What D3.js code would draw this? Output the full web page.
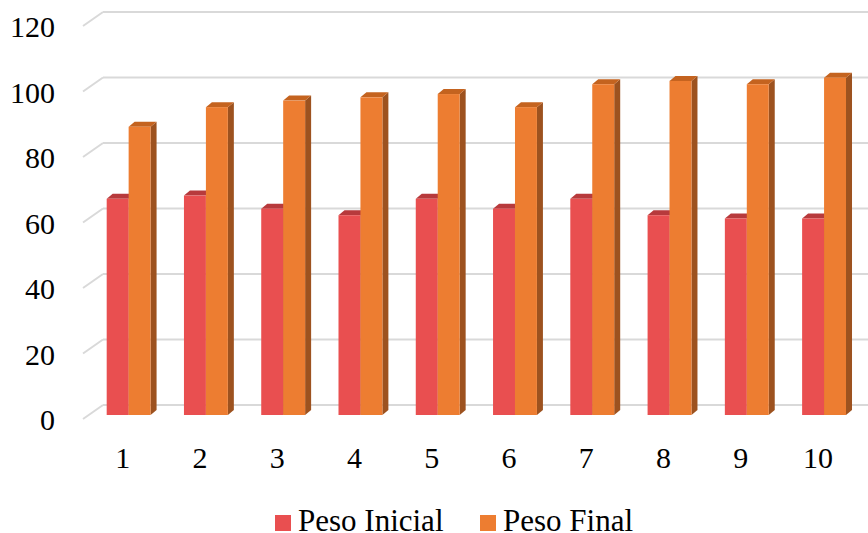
<!DOCTYPE html>
<html>
<head>
<meta charset="utf-8">
<script src="https://cdn.jsdelivr.net/npm/d3@7"></script>
</head>
<body style="margin:0">
<svg id="chart" width="868" height="533" font-family="Liberation Serif" style="display:block"></svg>
<script>
const categories = ["1", "2", "3", "4", "5", "6", "7", "8", "9", "10"];
const seriesNames = ["Peso Inicial", "Peso Final"];
const pesoInicial = [66, 67, 63, 61, 66, 63, 66, 61, 60, 60];
const pesoFinal = [88, 94, 96, 97, 98, 94, 101, 102, 101, 103];
const yTicks = [0, 20, 40, 60, 80, 100, 120];

const FONT = "Liberation Serif";

const colors = {
  "Peso Inicial": { front: "#E94F50", top: "#B73A3C", side: "#A8373A" },
  "Peso Final":   { front: "#ED7D31", top: "#C4631F", side: "#9D521F" }
};

const svg = d3.select("#chart");
const W = 868;
const depthX = 6, depthY = -5;   // bar depth offset
const wallX = 103, frontX = 83, wallDrop = 14; // floor/wall diagonal

// y scales: back wall and bar front
const yBack = d3.scaleLinear().domain([0, 120]).range([405, 12]);
const yFront = d3.scaleLinear().domain([0, 120]).range([415, 22]);
const yLabel = d3.scaleLinear().domain([0, 120]).range([405 + wallDrop, 12 + wallDrop]);

// x scales
const x0 = d3.scaleBand().domain(categories).range([90, 862.7])
  .paddingInner(0.432).paddingOuter(0.216);
const x1 = d3.scaleBand().domain(seriesNames).range([0, x0.bandwidth()]);

// gridlines
const grid = svg.append("g");
yTicks.forEach(t => {
  grid.append("line")
    .attr("x1", wallX).attr("x2", W)
    .attr("y1", yBack(t)).attr("y2", yBack(t))
    .attr("stroke", "#D9D9D9").attr("stroke-width", 2);
  grid.append("line")
    .attr("x1", frontX).attr("y1", yBack(t) + wallDrop)
    .attr("x2", wallX).attr("y2", yBack(t))
    .attr("stroke", "#D9D9D9").attr("stroke-width", 2);
});

// y axis labels
const yAxis = d3.axisLeft(yLabel).tickValues(yTicks).tickSize(0).tickPadding(0);
const gy = svg.append("g").attr("transform", "translate(55,0)").call(yAxis);
gy.attr("font-family", FONT).attr("font-size", 30);
gy.select(".domain").remove();
gy.selectAll("text").attr("dy", "0.36em")
  .attr("font-family", FONT).attr("font-size", 30).attr("fill", "#000");

// x axis labels
const xLab = d3.scaleBand().domain(categories).range([84, 856.7])
  .paddingInner(0.432).paddingOuter(0.216);
const xAxis = d3.axisBottom(xLab).tickSize(0).tickPadding(0);
const gx = svg.append("g").attr("transform", "translate(0,447)").call(xAxis);
gx.attr("font-family", FONT).attr("font-size", 30);
gx.select(".domain").remove();
gx.selectAll("text").attr("dy", "0.71em")
  .attr("font-family", FONT).attr("font-size", 30).attr("fill", "#000");

// bars
const data = categories.map((c, i) => ({ cat: c, vals: [
  { name: "Peso Inicial", v: pesoInicial[i] },
  { name: "Peso Final", v: pesoFinal[i] }
]}));

const bars = svg.append("g");
data.forEach(d => {
  d.vals.forEach(s => {
    const x = x0(d.cat) + x1(s.name);
    const w = x1.bandwidth();
    const yt = yFront(s.v), yb = yFront(0);
    const c = colors[s.name];
    const g = bars.append("g");
    g.append("path")
      .attr("d", `M${x + w},${yt} L${x + w + depthX},${yt + depthY} L${x + w + depthX},${yb + depthY} L${x + w},${yb} Z`)
      .attr("fill", c.side);
    g.append("path")
      .attr("d", `M${x},${yt} L${x + depthX},${yt + depthY} L${x + w + depthX},${yt + depthY} L${x + w},${yt} Z`)
      .attr("fill", c.top);
    g.append("rect")
      .attr("x", x).attr("y", yt).attr("width", w).attr("height", yb - yt)
      .attr("fill", c.front);
  });
});

// legend
const legendPos = [{ sx: 275, tx: 298 }, { sx: 480, tx: 503 }];
const lg = svg.append("g");
seriesNames.forEach((n, i) => {
  lg.append("rect").attr("x", legendPos[i].sx).attr("y", 515)
    .attr("width", 16).attr("height", 16).attr("fill", colors[n].front);
  lg.append("text").attr("x", legendPos[i].tx).attr("y", 531)
    .attr("font-family", FONT).attr("font-size", 31).attr("fill", "#000").text(n);
});
</script>
</body>
</html>
